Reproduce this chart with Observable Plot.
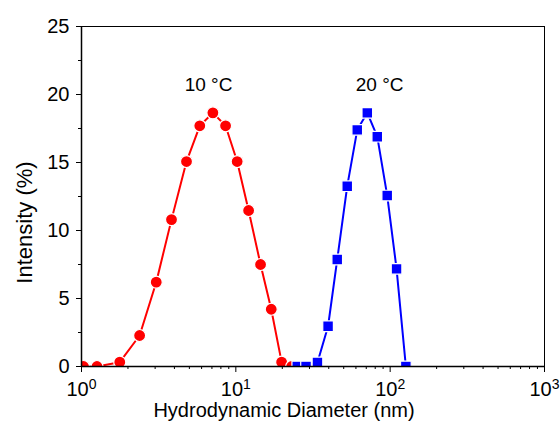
<!DOCTYPE html>
<html>
<head>
<meta charset="utf-8">
<script src="https://cdn.jsdelivr.net/npm/d3@7"></script>
<script src="https://cdn.jsdelivr.net/npm/@observablehq/plot@0.6"></script>
<style>
  html, body { margin: 0; padding: 0; background: white; }
  #chart { width: 560px; height: 428px; }
</style>
</head>
<body>
<div id="chart"></div>
<script>
// Data
const redDiameter = [1.03, 1.26, 1.77, 2.38, 3.05, 3.83, 4.79, 5.84, 7.1, 8.58, 10.2, 12.1, 14.46, 16.96, 19.8, 23.0];
const redIntensity = [0, 0, 0.32, 2.28, 6.2, 10.8, 15.07, 17.7, 18.65, 17.7, 15.07, 11.47, 7.5, 4.21, 0.32, 0];
const blueDiameter = [25.0, 28.5, 33.8, 39.6, 45.4, 52.7, 61.2, 71.1, 82.5, 95.7, 110, 126.4];
const blueIntensity = [0, 0, 0.3, 2.96, 7.87, 13.26, 17.4, 18.65, 16.9, 12.57, 7.18, 0];

const seriesLabels = ["10 °C", "20 °C"];
const labelDiameter = [6.65, 85.4];
const labelIntensity = [20.7, 20.7];

const xMajorTicks = [1, 10, 100, 1000];
const xMinorTicks = [2,3,4,5,6,7,8,9,20,30,40,50,60,70,80,90,200,300,400,500,600,700,800,900];
const yMajorTicks = [0, 5, 10, 15, 20, 25];
const yMinorTicks = [2.5, 7.5, 12.5, 17.5, 22.5];

const xLabel = "Hydrodynamic Diameter (nm)";
const yLabel = "Intensity (%)";

const red = redDiameter.map((d, i) => ({x: d, y: redIntensity[i]}));
const blue = blueDiameter.map((d, i) => ({x: d, y: blueIntensity[i]}));
const labels = seriesLabels.map((t, i) => ({x: labelDiameter[i], y: labelIntensity[i], t}));

const chart = Plot.plot({
  width: 560,
  height: 428,
  marginLeft: 81,
  marginRight: 16,
  marginTop: 26,
  marginBottom: 62,
  style: {fontFamily: "'Liberation Sans', Arial, sans-serif", fontSize: "20px", background: "white", color: "black", overflow: "visible"},
  x: {type: "log", domain: [1, 1000]},
  y: {domain: [0, 25]},
  marks: [
    Plot.line(red, {x: "x", y: "y", stroke: "#ff0000", strokeWidth: 2, clip: true}),
    Plot.dot(red, {x: "x", y: "y", r: 6, fill: "#ff0000", stroke: "white", strokeWidth: 1.2, clip: true}),
    Plot.line(blue, {x: "x", y: "y", stroke: "#0000ff", strokeWidth: 2, clip: true}),
    Plot.dot(blue, {x: "x", y: "y", r: 6, symbol: "square", fill: "#0000ff", stroke: "white", strokeWidth: 1.2, clip: true}),
    Plot.text(labels, {x: "x", y: "y", text: "t", fontSize: 19, fill: "black"}),
    Plot.frame({stroke: "black", strokeWidth: 1}),
    Plot.axisX({ticks: xMajorTicks, tickSize: 6, tickPadding: 9, fontSize: 20,
      tickFormat: d => "10^" + Math.round(Math.log10(d)),
      label: xLabel, labelAnchor: "center", labelOffset: 50, labelArrow: "none"}),
    Plot.axisX({ticks: xMinorTicks, tickSize: 3, text: null, label: null}),
    Plot.axisY({ticks: yMajorTicks, tickSize: 5, tickPadding: 7, fontSize: 20,
      label: yLabel, labelAnchor: "center", labelOffset: 57, labelArrow: "none"}),
    Plot.axisY({ticks: yMinorTicks, tickSize: 3, text: null, label: null}),
    Plot.ruleX([1], {stroke: "black", strokeWidth: 1.5}),
    Plot.ruleY([0], {stroke: "black", strokeWidth: 1.5})
  ]
});

document.getElementById("chart").appendChild(chart);

// Turn "10^n" tick labels into 10 with superscript exponent
d3.select(chart).selectAll("text").each(function() {
  const el = d3.select(this);
  const m = /^10\^(\d+)$/.exec(this.textContent);
  if (m) {
    el.text(null);
    el.append("tspan").text("10");
    el.append("tspan").attr("dy", "-0.5em").attr("font-size", "14px").text(m[1]);
  }
});
// Axis titles: size and position as in the reference
d3.select(chart).selectAll("g[aria-label='x-axis label'] text").each(function() {
  const t = this.getAttribute("transform") || "";
  this.setAttribute("transform", "translate(-29,0) " + t);
  this.setAttribute("font-size", "20px");
});
d3.select(chart).selectAll("g[aria-label='y-axis label'] text").each(function() {
  const t = this.getAttribute("transform") || "";
  this.setAttribute("transform", "translate(-8,26) " + t);
  this.setAttribute("font-size", "22px");
});
</script>
</body>
</html>
